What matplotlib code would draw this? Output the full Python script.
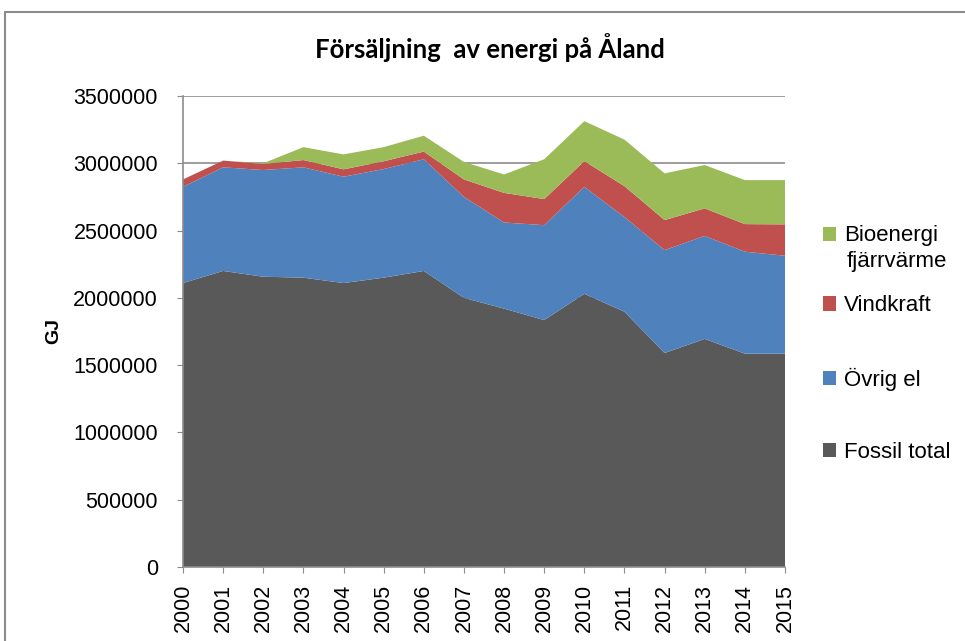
import numpy as np
import matplotlib
matplotlib.use('Agg')
from matplotlib import pyplot as plt
from matplotlib.patches import Rectangle

years = list(range(2000, 2016))
fossil = [2110000, 2200000, 2157000, 2150000, 2110000, 2150000, 2200000, 2000000,
          1920000, 1835000, 2030000, 1897000, 1590000, 1695000, 1585000, 1585000]
ovrig_el = [715000, 770000, 793000, 820000, 790000, 807000, 830000, 750000,
            640000, 705000, 795000, 703000, 765000, 765000, 758000, 728000]
vindkraft = [55000, 50000, 45000, 54000, 55000, 58000, 57000, 130000,
             220000, 194000, 191000, 230000, 223000, 205000, 205000, 233000]
bioenergi = [0, 0, 5000, 96000, 111000, 105000, 118000, 130000,
             137000, 296000, 297000, 346000, 347000, 322000, 327000, 329000]

labels = ['Fossil total', 'Övrig el', 'Vindkraft', 'Bioenergi']
colors = ['#595959', '#4F81BD', '#C0504D', '#9BBB59']

plt.rcParams['font.family'] = ['Liberation Sans', 'DejaVu Sans']

fig = plt.figure(figsize=(9.65, 6.41), dpi=100)
ax = fig.add_axes([183 / 965, 1 - 567 / 641, (785 - 183) / 965, (567 - 96) / 641])

# ram runt diagrammet
fig.patches.append(Rectangle((5 / 965, -0.1), 1.2, 1 - 12 / 641 + 0.1,
                             transform=fig.transFigure, fill=False,
                             edgecolor='#8c8c8c', linewidth=1.5))

ax.stackplot(years, fossil, ovrig_el, vindkraft, bioenergi,
             labels=labels, colors=colors, zorder=2, linewidth=0)

ax.set_xlim(2000, 2015)
ax.set_ylim(0, 3500000)
ax.set_yticks(np.arange(0, 3500001, 500000))
ax.set_yticklabels([str(v) for v in range(0, 3500001, 500000)])
ax.set_xticks(years)
ax.set_xticklabels([str(y) for y in years], rotation=90)
ax.tick_params(axis='both', labelsize=15.5, length=4, color='#8c8c8c')
ax.tick_params(axis='y', pad=14)
ax.tick_params(axis='x', pad=8)
ax.grid(axis='y', color='#8c8c8c', linewidth=1.2, zorder=0)
ax.set_axisbelow(True)
for side in ['top', 'right']:
    ax.spines[side].set_visible(False)
for side in ['left', 'bottom']:
    ax.spines[side].set_color('#8c8c8c')
    ax.spines[side].set_linewidth(1.2)
    ax.spines[side].set_zorder(3)

ax.set_ylabel('GJ', fontsize=14, fontweight='bold', labelpad=8)

fig.text(0.508, 1 - 48 / 641, 'Försäljning  av energi på Åland', ha='center', va='center',
         fontsize=18.5, fontweight='bold', family=['Lato', 'DejaVu Sans'])

handles, labs = ax.get_legend_handles_labels()
handles, labs = handles[::-1], labs[::-1]
leg_kw = dict(loc='center left', frameon=False, fontsize=16, handlelength=0.6,
              handleheight=0.6, handletextpad=0.35)
leg1 = ax.legend(handles[:1], labs[:1], bbox_to_anchor=(1.03, 1 - (236 - 96) / 471), **leg_kw)
ax.add_artist(leg1)
# andra raden av legendtexten
fig.text(847 / 965, 1 - 262 / 641, 'fjärrvärme', ha='left', va='center', fontsize=16)
ax.legend(handles[1:], labs[1:], bbox_to_anchor=(1.03, 1 - (379 - 96) / 471),
          labelspacing=2.3, **leg_kw)

fig.savefig('out.png', dpi=100)
